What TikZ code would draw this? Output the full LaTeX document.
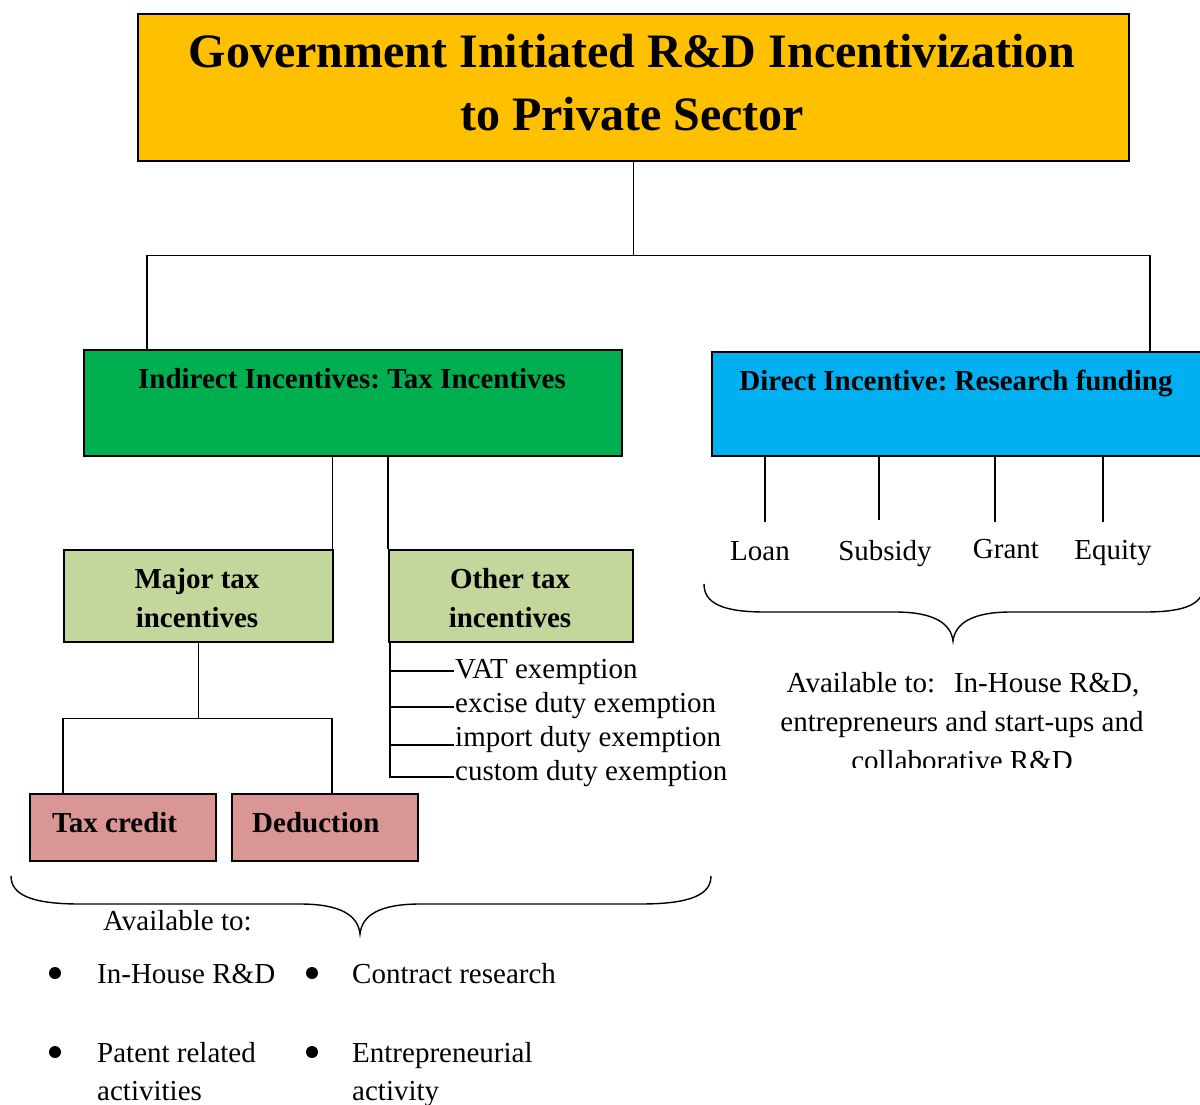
\documentclass[tikz,border=0pt]{standalone}
\usepackage{fontspec}
\setmainfont{Liberation Serif}
\frenchspacing
\definecolor{titlefill}{HTML}{FFC000}
\definecolor{greenfill}{HTML}{00B050}
\definecolor{bluefill}{HTML}{00B0F0}
\definecolor{olivefill}{HTML}{C3D69B}
\definecolor{pinkfill}{HTML}{D99694}
\begin{document}
\begin{tikzpicture}[x=1pt,y=-1pt,
  box/.style={draw=black,line width=1.6pt,rectangle,inner sep=0pt,anchor=north west},
  conn/.style={draw=black,line width=1.3pt},
  bigtitle/.style={font=\fontsize{48}{63}\selectfont\bfseries,inner sep=0pt,align=center},
  boldlbl/.style={font=\fontsize{29}{39}\selectfont\bfseries,inner sep=0pt},
  plainlbl/.style={font=\fontsize{29}{38}\selectfont,inner sep=0pt},
  dot/.style={circle,fill=black,inner sep=0pt,minimum size=12pt},
  bracestyle/.style={draw=black,line width=1.4pt}]
\useasboundingbox (0,0) rectangle (1200,1104);
\clip (0,0) rectangle (1200,1104);
\fill[white] (0,0) rectangle (1200,1104);

% boxes
\node[box,fill=titlefill,minimum width=991pt,minimum height=147pt] (title) at (137,13) {};
\node[box,fill=greenfill,minimum width=538pt,minimum height=106pt] (green) at (83,349) {};
\node[box,fill=bluefill,minimum width=520pt,minimum height=104pt] (blue) at (711,351) {};
\node[box,fill=olivefill,minimum width=269pt,minimum height=92pt] (major) at (63,549) {};
\node[box,fill=olivefill,minimum width=244pt,minimum height=92pt] (other) at (388,549) {};
\node[box,fill=pinkfill,minimum width=186pt,minimum height=67pt] (taxc) at (29,793) {};
\node[box,fill=pinkfill,minimum width=186pt,minimum height=67pt] (ded) at (231,793) {};

% box texts
\node[bigtitle,anchor=base] (t1) at (632,67) {Government Initiated R\&D Incentivization};
\node[bigtitle,anchor=base] (t2) at (632,130) {to Private Sector};
\node[boldlbl,anchor=base] (greentxt) at (352,388) {Indirect Incentives: Tax Incentives};
\node[boldlbl,anchor=base] (bluetxt) at (956,390) {Direct Incentive: Research funding};
\node[boldlbl,anchor=base] (maj1) at (197,588) {Major tax};
\node[boldlbl,anchor=base] (maj2) at (197,627) {incentives};
\node[boldlbl,anchor=base] (oth1) at (510,588) {Other tax};
\node[boldlbl,anchor=base] (oth2) at (510,627) {incentives};
\node[boldlbl,anchor=base west] (taxctxt) at (52,832) {Tax credit};
\node[boldlbl,anchor=base west] (dedtxt) at (252,832) {Deduction};

% tree connectors
\draw[conn] (title.south) -- ++(0,94) coordinate (j1);
\draw[conn] ([xshift=64pt]green.north west) |- (j1);
\draw[conn] (j1) -| ([xshift=439pt]blue.north west);
\draw[conn] ([xshift=-1pt]major.north east) -- ([xshift=-1pt]major.north east |- green.south);
\draw[conn] (other.north west) -- (other.north west |- green.south);
\draw[conn] (major.south) -- ++(0,76) coordinate (j2);
\draw[conn] ([xshift=34pt]taxc.north west) |- (j2);
\draw[conn] (j2) -| ([xshift=101pt]ded.north west);

% other tax list
\node[plainlbl,anchor=base west,inner sep=1pt] (v1) at (454,678) {VAT exemption};
\node[plainlbl,anchor=base west,inner sep=1pt] (v2) at (454,712) {excise duty exemption};
\node[plainlbl,anchor=base west,inner sep=1pt] (v3) at (454,746) {import duty exemption};
\node[plainlbl,anchor=base west,inner sep=1pt] (v4) at (454,780) {custom duty exemption};
\coordinate (k1) at (390,671);
\coordinate (k2) at (390,707);
\coordinate (k3) at (390,745);
\coordinate (k4) at (390,777);
\draw[conn] (k1 |- other.south) -- (k4) -- (k4 -| v4.west);
\draw[conn] (k1) -- (k1 -| v1.west);
\draw[conn] (k2) -- (k2 -| v2.west);
\draw[conn] (k3) -- (k3 -| v3.west);

% direct incentive children
\node[plainlbl,anchor=base] (loan) at (760,560) {Loan};
\node[plainlbl,anchor=base] (subsidy) at (885,560) {Subsidy};
\node[plainlbl,anchor=base] (grant) at (1006,558) {Grant};
\node[plainlbl,anchor=base] (equity) at (1113,559) {Equity};
\coordinate (d1) at (765,522);
\coordinate (d2) at (879,520);
\coordinate (d3) at (995,522);
\coordinate (d4) at (1103,522);
\draw[conn] (d1) -- (d1 |- blue.south);
\draw[conn] (d2) -- (d2 |- blue.south);
\draw[conn] (d3) -- (d3 |- blue.south);
\draw[conn] (d4) -- (d4 |- blue.south);

% right brace
\draw[bracestyle] (704,584) .. controls (704,603) and (722,612) .. (765,612)
  -- (895,612) .. controls (935,612) and (951,624) .. (953,641)
  .. controls (955,624) and (971,612) .. (1011,612)
  -- (1145,612) .. controls (1188,612) and (1204,603) .. (1204,584);
\node[plainlbl,anchor=base] (r1) at (963,692) {Available to:\hspace{0.4em} In-House R\&D,};
\node[plainlbl,anchor=base] (r2) at (962,731) {entrepreneurs and start-ups and};
\begin{scope}
\clip (700,740) rectangle (1200,767);
\node[plainlbl,anchor=base] (r3) at (962,770) {collaborative R\&D};
\end{scope}

% bottom brace
\draw[bracestyle] (11,876) .. controls (11,895) and (32,904) .. (80,904)
  -- (300,904) .. controls (340,904) and (358,915) .. (360,934)
  .. controls (362,915) and (380,904) .. (420,904)
  -- (640,904) .. controls (690,904) and (711,895) .. (711,876);
\node[plainlbl,anchor=base west] (avail) at (103,930) {Available to:};
\node[dot] (b1) at (55,973) {};
\node[plainlbl,anchor=base west] (i1) at (97,983) {In-House R\&D};
\node[dot] (b2) at (312,973) {};
\node[plainlbl,anchor=base west] (i2) at (352,983) {Contract research};
\node[dot] (b3) at (55,1052) {};
\node[plainlbl,anchor=base west] (i3) at (97,1062) {Patent related};
\node[plainlbl,anchor=base west] (i3b) at (97,1100) {activities};
\node[dot] (b4) at (312,1052) {};
\node[plainlbl,anchor=base west] (i4) at (352,1062) {Entrepreneurial};
\node[plainlbl,anchor=base west] (i4b) at (352,1100) {activity};
\end{tikzpicture}
\end{document}
